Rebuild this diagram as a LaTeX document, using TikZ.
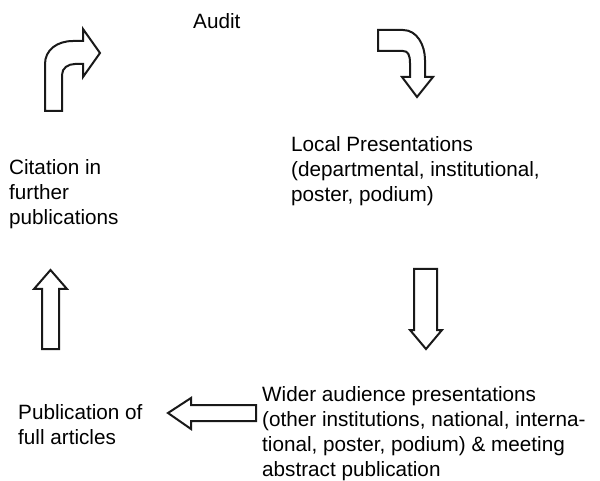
\documentclass[tikz,border=0pt]{standalone}
\usepackage{fontspec}
\setmainfont{Liberation Sans}
\begin{document}
\begin{tikzpicture}[x=1pt,y=-1pt]
\tikzset{
  blockarrow/.style={draw=black!90, line width=2pt, line join=miter, fill=white},
  label/.style={anchor=base west, inner sep=0pt, align=left,
    font=\fontsize{20.7}{25}\selectfont}
}
\useasboundingbox (0,0) rectangle (600,481);

% curved arrow, bottom left, turning right
\draw[blockarrow] (45,111) -- (45,64) .. controls (45,50) and (57,41) .. (73,41)
  -- (83,41) -- (83,29) -- (100,53) -- (83,77) -- (83,64) -- (75,64)
  .. controls (68,64) and (62,68) .. (62,75) -- (62,111) -- cycle;

% curved arrow, top right, turning down
\draw[blockarrow] (378,30) -- (403,30) .. controls (417,30) and (425,45) .. (425,60)
  -- (425,77) -- (433,77) -- (417,97) -- (402,77) -- (410,77) -- (410,63)
  .. controls (410,55) and (408,51) .. (403,51) -- (378,51) -- cycle;

% straight arrow down
\draw[blockarrow] (414,269) -- (437,269) -- (437,330) -- (442,330) -- (426,349)
  -- (410,330) -- (414,330) -- cycle;

% straight arrow left
\draw[blockarrow] (256,405) -- (256,421) -- (191,421) -- (191,429) -- (168,413)
  -- (191,398) -- (191,405) -- cycle;

% straight arrow up
\draw[blockarrow] (42,349) -- (42,289) -- (34,289) -- (50.5,270) -- (67,289)
  -- (59,289) -- (59,349) -- cycle;

% labels, placed by the baseline of their last line
\node[label] (audit) at (193,29) {Audit};
\node[label] (local) at (291,202) {Local Presentations\\(departmental, institutional,\\poster, podium)};
\node[label] (wider) at (262,476) {Wider audience presentations\\(other institutions, national, interna-\\tional, poster, podium) \& meeting\\abstract publication};
\node[label] (pub) at (18,444) {Publication of\\full articles};
\node[label] (cite) at (9,225) {Citation in\\further\\publications};
\end{tikzpicture}
\end{document}
